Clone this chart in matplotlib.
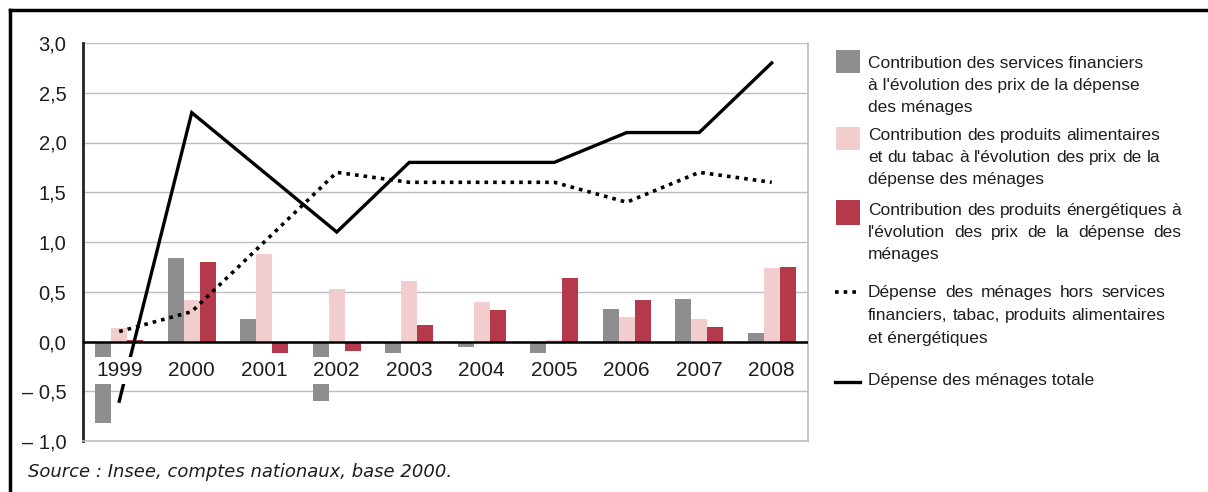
import numpy as np
import matplotlib
matplotlib.use('Agg')
import matplotlib.pyplot as plt
from matplotlib.patches import Rectangle
from matplotlib.lines import Line2D

# ---- données ----
annees = ['1999', '2000', '2001', '2002', '2003', '2004', '2005', '2006', '2007', '2008']
services_financiers = [-0.82, 0.84, 0.23, -0.60, -0.12, -0.06, -0.12, 0.33, 0.43, 0.09]
alimentaires_tabac = [0.14, 0.42, 0.88, 0.53, 0.61, 0.40, 0.02, 0.25, 0.23, 0.74]
energetiques = [0.02, 0.80, -0.12, -0.10, 0.17, 0.32, 0.64, 0.42, 0.15, 0.75]
hors_postes = [0.1, 0.3, 1.0, 1.7, 1.6, 1.6, 1.6, 1.4, 1.7, 1.6]
total = [-0.6, 2.3, 1.7, 1.1, 1.8, 1.8, 1.8, 2.1, 2.1, 2.8]

y_ticks = [-1.0, -0.5, 0.0, 0.5, 1.0, 1.5, 2.0, 2.5, 3.0]
y_labels = ['\u2013 1,0', '\u2013 0,5', '0,0', '0,5', '1,0', '1,5', '2,0', '2,5', '3,0']

legende = [
    ['Contribution des services financiers',
     "\u00e0 l'\u00e9volution des prix de la d\u00e9pense",
     'des m\u00e9nages'],
    ['Contribution des produits alimentaires',
     "et du tabac \u00e0 l'\u00e9volution des prix de la",
     'd\u00e9pense des m\u00e9nages'],
    ['Contribution des produits \u00e9nerg\u00e9tiques \u00e0',
     "l'\u00e9volution des prix de la d\u00e9pense des",
     'm\u00e9nages'],
    ['D\u00e9pense des m\u00e9nages hors services',
     'financiers, tabac, produits alimentaires',
     'et \u00e9nerg\u00e9tiques'],
    ['D\u00e9pense des m\u00e9nages totale'],
]

GRIS = '#8e8e8e'
ROSE = '#f1cdce'
ROUGE = '#b3394b'
TEXTE = '#1e1e1e'

plt.rcParams['font.family'] = ['Liberation Sans', 'DejaVu Sans']

W, H = 1208, 492
fig = plt.figure(figsize=(W / 100, H / 100), dpi=100)
fig.patch.set_facecolor('white')

def fx(px):
    return px / W

def fy(py):
    return 1 - py / H

ax = fig.add_axes([fx(83), fy(441), fx(808) - fx(83), fy(43) - fy(441)])

x = np.arange(len(annees))
w = 0.22
ax.bar(x - w, services_financiers, w, color=GRIS, zorder=2)
ax.bar(x, alimentaires_tabac, w, color=ROSE, zorder=2)
ax.bar(x + w, energetiques, w, color=ROUGE, zorder=2)

ax.plot(x, hors_postes, color='black', lw=2.6, linestyle=(0, (1, 1.4)), zorder=4)
ax.plot(x, total, color='black', lw=2.4, zorder=4, solid_joinstyle='miter')

ax.axhline(0, color='black', lw=1.8, zorder=3)

# libellés des années posés dans la zone de tracé, fond blanc
for i, a in enumerate(annees):
    ax.text(i, -0.29, a, ha='center', va='center', fontsize=15, color=TEXTE, zorder=6,
            bbox=dict(boxstyle='square,pad=0.2', facecolor='white', edgecolor='none'))

ax.set_xlim(-0.5, len(annees) - 0.5)
ax.set_ylim(-1, 3)
ax.set_xticks([])
ax.set_yticks(y_ticks)
ax.set_yticklabels(y_labels)
ax.tick_params(axis='y', length=0, pad=12, labelsize=14.5, labelcolor=TEXTE)
ax.yaxis.grid(True, color='#bdbdbd', lw=1)
ax.set_axisbelow(True)
ax.spines['top'].set_visible(False)
for s in ['right', 'bottom']:
    ax.spines[s].set_color('#bdbdbd')
    ax.spines[s].set_linewidth(1.2)
ax.spines['left'].set_color('#222222')
ax.spines['left'].set_linewidth(2)

# ---- légende manuelle à droite ----
renderer = fig.canvas.get_renderer()
TX = 868
FS = 12.5

def largeur(txt):
    t = fig.text(0, 0, txt, fontsize=FS)
    bb = t.get_window_extent(renderer)
    t.remove()
    return bb.width

def ligne(txt, y, cible=None):
    if cible is None:
        fig.text(fx(TX), fy(y), txt, fontsize=FS, color=TEXTE, va='baseline')
        return
    mots = txt.split()
    ws = [largeur(m) for m in mots]
    esp = (cible - sum(ws)) / (len(mots) - 1)
    xc = TX
    for m, wm in zip(mots, ws):
        fig.text(fx(xc), fy(y), m, fontsize=FS, color=TEXTE, va='baseline')
        xc += wm + esp

bases = [[68, 90, 112], [140, 162, 184], [215, 237, 259], [297, 320, 343], [385]]
justifie = [False, True, True, True, False]
for lignes, ys, j in zip(legende, bases, justifie):
    cible = max(largeur(l) for l in lignes[:-1]) if j else None
    for k, (l, y) in enumerate(zip(lignes, ys)):
        ligne(l, y, cible if (j and k < len(lignes) - 1) else None)

for col, (y0, y1) in zip([GRIS, ROSE, ROUGE], [(50, 73), (127, 150), (200, 225)]):
    fig.add_artist(Rectangle((fx(836), fy(y1)), fx(860) - fx(836), fy(y0) - fy(y1),
                             facecolor=col, edgecolor='none', transform=fig.transFigure))
fig.add_artist(Line2D([fx(835), fx(860)], [fy(292), fy(292)], color='black', lw=2.6,
                      linestyle=(0, (1, 1.4)), transform=fig.transFigure))
fig.add_artist(Line2D([fx(835), fx(860)], [fy(382), fy(382)], color='black', lw=2.4,
                      transform=fig.transFigure))

# source
fig.text(fx(28), fy(477), 'Source : Insee, comptes nationaux, base 2000.', fontsize=13,
         family='DejaVu Sans', style='italic', color=TEXTE, va='baseline')

# cadre (haut et gauche)
fig.add_artist(Line2D([fx(10), fx(10)], [0, fy(10)], color='black', lw=2.5, transform=fig.transFigure))
fig.add_artist(Line2D([fx(10), 1], [fy(10), fy(10)], color='black', lw=2.5, transform=fig.transFigure))

fig.savefig('out.png', dpi=100, facecolor='white')
